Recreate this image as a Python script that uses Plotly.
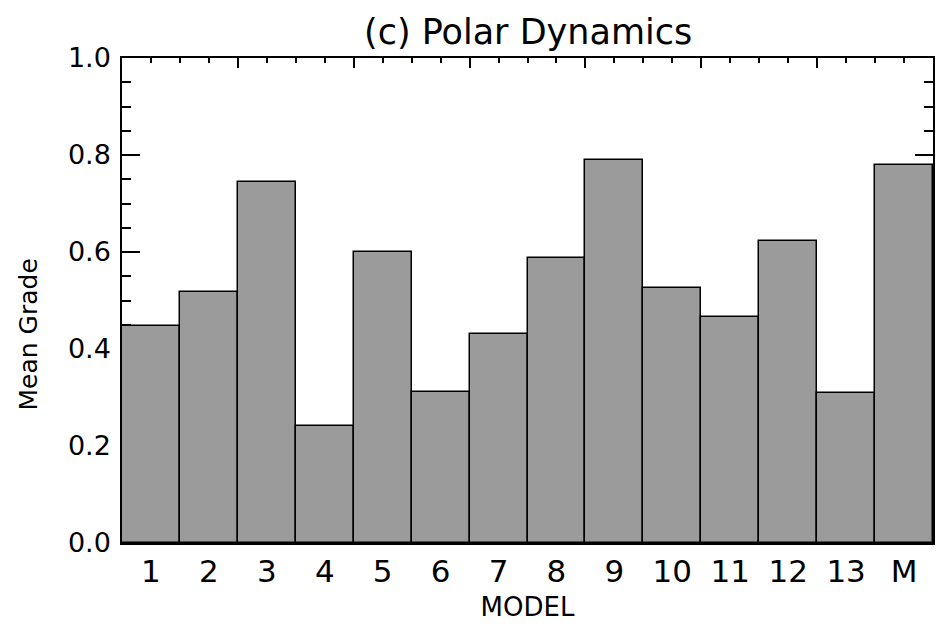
import plotly.graph_objects as go

models = ["1", "2", "3", "4", "5", "6", "7", "8", "9", "10", "11", "12", "13", "M"]
mean_grade = [0.447, 0.518, 0.744, 0.241, 0.601, 0.312, 0.430, 0.587,
              0.790, 0.526, 0.465, 0.622, 0.309, 0.779]
y_ticks = [0.0, 0.2, 0.4, 0.6, 0.8, 1.0]
y_tick_labels = ["0.0", "0.2", "0.4", "0.6", "0.8", "1.0"]

FONT = "DejaVu Sans"

fig = go.Figure()
fig.add_trace(go.Bar(
    x=models, y=mean_grade,
    marker=dict(color="#9b9b9b", line=dict(color="black", width=1.5)),
    hoverinfo="skip",
))
# invisible helper trace so the top (mirror) axis with its ticks is drawn
fig.add_trace(go.Scatter(
    x=list(range(len(models))), y=mean_grade, xaxis="x2",
    mode="markers", marker=dict(opacity=0), hoverinfo="skip",
))

fig.update_layout(
    width=942, height=626,
    margin=dict(l=122, r=7, t=58, b=83),
    plot_bgcolor="white", paper_bgcolor="white",
    bargap=0,
    showlegend=False,
    font=dict(family=FONT, color="black"),
    xaxis=dict(
        type="category", range=[-0.5, len(models) - 0.5],
        showline=True, linecolor="black", linewidth=1.5,
        ticks="", showgrid=False, zeroline=False,
        tickfont=dict(size=31, family=FONT),
        title=dict(text="MODEL", font=dict(size=26, family=FONT), standoff=10),
        layer="below traces",
    ),
    xaxis2=dict(
        overlaying="x", side="top", anchor="y",
        range=[-0.5, len(models) - 0.5],
        showline=True, linecolor="black", linewidth=1.5,
        ticks="inside", tick0=-0.5, dtick=2, ticklen=10, tickwidth=1.5, tickcolor="black",
        minor=dict(ticks="inside", dtick=0.5, ticklen=5, tickwidth=1.5, tickcolor="black"),
        showticklabels=False, showgrid=False, zeroline=False,
        layer="below traces",
    ),
    yaxis=dict(
        range=[0, 1.0],
        tickvals=y_ticks, ticktext=y_tick_labels,
        showline=True, linecolor="black", linewidth=1.5, mirror="ticks",
        ticks="inside", ticklen=18, tickwidth=1.5, tickcolor="black",
        minor=dict(ticks="inside", dtick=0.05, ticklen=9, tickwidth=1.5, tickcolor="black"),
        showgrid=False, zeroline=False,
        tickfont=dict(size=27, family=FONT),
        ticklabelstandoff=4,
        layer="below traces",
    ),
)

fig.add_annotation(
    text="(c) Polar Dynamics", xref="paper", yref="paper",
    x=0.5, y=1.0, yshift=4, xanchor="center", yanchor="bottom",
    showarrow=False, font=dict(size=35, family=FONT),
)
fig.add_annotation(
    text="Mean Grade", xref="paper", yref="paper",
    x=0, xshift=-94, y=0.43, xanchor="center", yanchor="middle",
    textangle=-90, showarrow=False, font=dict(size=25, family=FONT),
)

fig.write_html("out.html")
